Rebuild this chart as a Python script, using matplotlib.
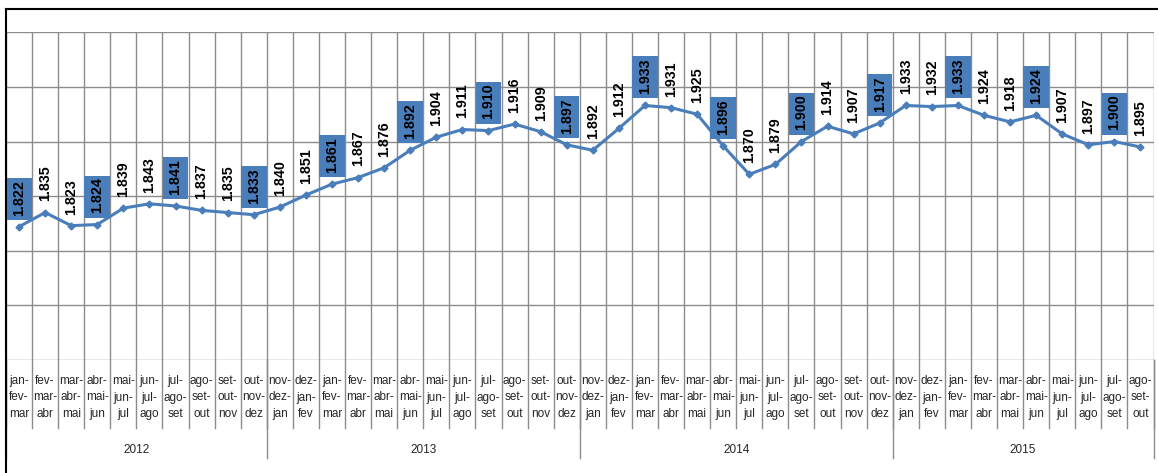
import matplotlib
matplotlib.use("Agg")
import matplotlib.pyplot as plt
from matplotlib.patches import Rectangle
from matplotlib.lines import Line2D
import numpy as np

# data
periods = [
    "jan-fev-mar", "fev-mar-abr", "mar-abr-mai", "abr-mai-jun", "mai-jun-jul",
    "jun-jul-ago", "jul-ago-set", "ago-set-out", "set-out-nov", "out-nov-dez",
    "nov-dez-jan", "dez-jan-fev", "jan-fev-mar", "fev-mar-abr", "mar-abr-mai",
    "abr-mai-jun", "mai-jun-jul", "jun-jul-ago", "jul-ago-set", "ago-set-out",
    "set-out-nov", "out-nov-dez",
    "nov-dez-jan", "dez-jan-fev", "jan-fev-mar", "fev-mar-abr", "mar-abr-mai",
    "abr-mai-jun", "mai-jun-jul", "jun-jul-ago", "jul-ago-set", "ago-set-out",
    "set-out-nov", "out-nov-dez",
    "nov-dez-jan", "dez-jan-fev", "jan-fev-mar", "fev-mar-abr", "mar-abr-mai",
    "abr-mai-jun", "mai-jun-jul", "jun-jul-ago", "jul-ago-set", "ago-set-out",
]
values = [
    1.822, 1.835, 1.823, 1.824, 1.839, 1.843, 1.841, 1.837, 1.835, 1.833,
    1.840, 1.851, 1.861, 1.867, 1.876, 1.892, 1.904, 1.911, 1.910, 1.916, 1.909, 1.897,
    1.892, 1.912, 1.933, 1.931, 1.925, 1.896, 1.870, 1.879, 1.900, 1.914, 1.907, 1.917,
    1.933, 1.932, 1.933, 1.924, 1.918, 1.924, 1.907, 1.897, 1.900, 1.895,
]
years = ["2012", "2013", "2014", "2015"]
year_counts = [10, 12, 12, 10]
boxed = [0, 3, 6, 9, 12, 15, 18, 21, 24, 27, 30, 33, 36, 39, 42]

W, H = 1158, 473
fig = plt.figure(figsize=(W / 100, H / 100), dpi=100)
ax_left, ax_right, ax_top, ax_bot = 6, 1153.5, 32.3, 360
ax = fig.add_axes([ax_left / W, 1 - ax_bot / H, (ax_right - ax_left) / W, (ax_bot - ax_top) / H])

blue = "#4A7EBB"
grid_c = "#8C8C8C"
txt_c = "#262626"
ymin, ymax = 1.70, 2.00
n = len(values)
x = np.arange(n)

ax.set_xlim(-0.5, n - 0.5)
ax.set_ylim(ymin, ymax)
for s in ax.spines.values():
    s.set_visible(False)
ax.set_yticks(np.arange(ymin, ymax + 0.001, 0.05))
ax.set_yticklabels([])
ax.tick_params(axis="y", length=0)
ax.set_xticks(np.arange(-0.5, n, 1.0))
ax.set_xticklabels([])
ax.tick_params(axis="x", length=0)
ax.grid(True, color=grid_c, linewidth=1.0)
ax.set_axisbelow(True)

# category separators extending below the axis
ax_h = ax_bot - ax_top
trans = ax.get_xaxis_transform()
for b in np.arange(-0.5, n, 1.0):
    ax.plot([b, b], [0, -(428 - ax_bot) / ax_h], color=grid_c, lw=1.0, transform=trans, clip_on=False)
bounds = np.concatenate([[0], np.cumsum(year_counts)]) - 0.5
for b in bounds:
    ax.plot([b, b], [0, -(458 - ax_bot) / ax_h], color=grid_c, lw=1.0, transform=trans, clip_on=False)

# line
ax.plot(x, values, color=blue, lw=2.2, marker="D", markersize=3.5, zorder=3)

# data labels
px = (ymax - ymin) / ax_h
for i, v in enumerate(values):
    if i in boxed:
        ax.add_patch(Rectangle((i - 0.49, v + 7 * px), 0.98, 42 * px, facecolor=blue,
                               edgecolor="none", zorder=4))
    ax.annotate(f"{v:.3f}", (i, v), xytext=(0, 8), textcoords="offset points",
                rotation=90, ha="center", va="bottom", fontsize=10.3,
                fontweight="bold", family="Liberation Sans", color="black", zorder=5)

# category labels
for i, p in enumerate(periods):
    parts = p.split("-")
    lab = "-\n".join(parts)
    ax.text(i, -(375 - ax_bot) / ax_h, lab, transform=trans, ha="center", va="top",
            multialignment="center", fontsize=8.5, family="Liberation Sans",
            color=txt_c, linespacing=1.5)

# year labels
for k, yr in enumerate(years):
    c = (bounds[k] + bounds[k + 1]) / 2
    ax.text(c, -(450 - ax_bot) / ax_h, yr, transform=trans, ha="center", va="center",
            fontsize=8.5, family="Liberation Sans", color=txt_c)

# outer chart frame (partly cropped)
fig.add_artist(Line2D([6 / W, 6 / W], [0, 1 - 9.5 / H], color="black", lw=1.5))
fig.add_artist(Line2D([6 / W, 1], [1 - 9.5 / H, 1 - 9.5 / H], color="black", lw=1.5))

fig.savefig("out.png", dpi=100)
